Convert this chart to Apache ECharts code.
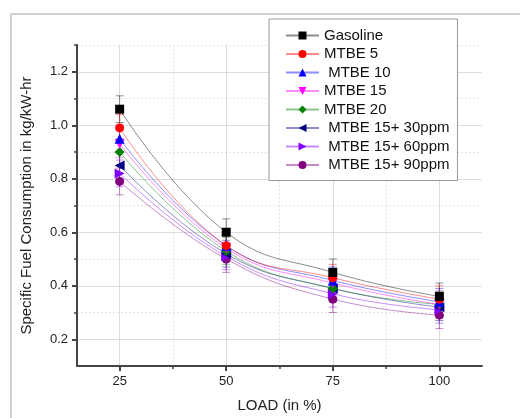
<!DOCTYPE html>
<html><head><meta charset="utf-8">
<script src="https://cdn.jsdelivr.net/npm/echarts@6/dist/echarts.min.js"></script>
<style>html,body{margin:0;padding:0;background:#fff}#c{width:520px;height:418px}</style>
</head><body><div id="c"></div>
<script>
const loads = [25, 50, 75, 100];
const seriesNames = ['Gasoline', 'MTBE 5', ' MTBE 10', 'MTBE 15', 'MTBE 20', ' MTBE 15+ 30ppm', ' MTBE 15+ 60ppm', ' MTBE 15+ 90ppm'];
const gasoline = [1.06, 0.60, 0.45, 0.36];
const mtbe5 = [0.99, 0.55, 0.43, 0.35];
const mtbe10 = [0.95, 0.55, 0.42, 0.34];
const mtbe15 = [0.93, 0.54, 0.41, 0.33];
const mtbe20 = [0.90, 0.53, 0.39, 0.33];
const mtbe15p30 = [0.85, 0.52, 0.39, 0.32];
const mtbe15p60 = [0.82, 0.51, 0.37, 0.31];
const mtbe15p90 = [0.79, 0.50, 0.35, 0.29];
const errorBar = 0.05;
const xTicks = [25, 50, 75, 100];
const xMinor = [37.5, 62.5, 87.5];
const yTicks = [0.2, 0.4, 0.6, 0.8, 1.0, 1.2];
const yMinor = [0.3, 0.5, 0.7, 0.9, 1.1, 1.3];

const values = [gasoline, mtbe5, mtbe10, mtbe15, mtbe20, mtbe15p30, mtbe15p60, mtbe15p90];
const colors = ['#000000', '#ff0000', '#0000ff', '#ff00ff', '#008000', '#000080', '#8000ff', '#800080'];
const symbols = ['rect', 'circle', 'triangle', 'path://M0,0 L10,0 L5,9 Z', 'diamond',
  'path://M0,5 L9,0 L9,10 Z', 'path://M0,0 L9,5 L0,10 Z', 'circle'];
const symbolSizes = [9, 9, 10, 10, 10, 10, 10, 9];
const FONT = 'Liberation Sans, Arial, sans-serif';
const axisColor = '#444';

const series = [];
values.forEach((vals, i) => {
  series.push({
    name: 'err' + i, type: 'custom', xAxisIndex: 0, yAxisIndex: 0, z: 1,
    silent: true,
    data: loads.map((x, k) => [x, vals[k], errorBar]),
    encode: { x: 0, y: 1 },
    renderItem: function (params, api) {
      const x = api.value(0), y = api.value(1), e = api.value(2);
      const p = api.coord([x, y + e]);
      const q = api.coord([x, y - e]);
      const hw = 4;
      const st = { stroke: colors[i], lineWidth: 1, opacity: 0.45 };
      return { type: 'group', children: [
        { type: 'line', shape: { x1: p[0], y1: p[1], x2: q[0], y2: q[1] }, style: st },
        { type: 'line', shape: { x1: p[0] - hw, y1: p[1], x2: p[0] + hw, y2: p[1] }, style: st },
        { type: 'line', shape: { x1: q[0] - hw, y1: q[1], x2: q[0] + hw, y2: q[1] }, style: st }
      ]};
    }
  });
});
values.forEach((vals, i) => {
  series.push({
    name: seriesNames[i], type: 'line', xAxisIndex: 0, yAxisIndex: 0, z: 3 + (values.length - i),
    data: loads.map((x, k) => [x, vals[k]]),
    smooth: 0.45,
    symbol: symbols[i], symbolSize: symbolSizes[i],
    itemStyle: { color: colors[i] },
    lineStyle: { color: colors[i], width: 1, opacity: 0.45 }
  });
});

const chart = echarts.init(document.getElementById('c'), null, { renderer: 'canvas' });
chart.setOption({
  animation: false,
  backgroundColor: '#fff',
  graphic: [{ type: 'rect', shape: { x: 11, y: 14, width: 600, height: 500 }, style: { fill: 'none', stroke: '#c4c4c4', lineWidth: 1.5 }, z: -10 }],
  grid: { left: 77, right: 38, top: 45, bottom: 45, containLabel: false },
  legend: {
    orient: 'vertical', left: 269, top: 19,
    padding: [9, 8, 8, 16], itemGap: 3.5, itemWidth: 33, itemHeight: 10,
    borderColor: '#999', borderWidth: 1, backgroundColor: '#fff',
    textStyle: { fontSize: 15, color: '#111', fontFamily: FONT },
    data: seriesNames
  },
  xAxis: [
    { type: 'value', min: 15, max: 110,
      name: 'LOAD (in %)', nameLocation: 'middle', nameGap: 32,
      nameTextStyle: { fontSize: 15, color: '#222', fontFamily: FONT },
      axisLine: { show: true, onZero: false, lineStyle: { color: axisColor, width: 2 } },
      axisTick: { show: true, customValues: xTicks, length: 5, lineStyle: { color: axisColor, width: 2 } },
      axisLabel: { customValues: xTicks, fontSize: 13, color: '#222', fontFamily: FONT, margin: 9 },
      splitLine: { show: true, lineStyle: { color: '#dcdcdc', width: 1 } } },
    { type: 'value', min: 15, max: 110, position: 'bottom',
      axisLine: { show: false },
      axisTick: { show: true, customValues: xMinor, length: 3, lineStyle: { color: axisColor, width: 1.5 } },
      axisLabel: { show: false, customValues: xMinor },
      splitLine: { show: true, lineStyle: { color: '#e4e4e4', width: 1, type: [2, 2] } } }
  ],
  yAxis: [
    { type: 'value', min: 0.1, max: 1.3,
      name: 'Specific Fuel Consumption in kg/kW-hr', nameLocation: 'middle', nameGap: 43,
      nameTextStyle: { fontSize: 15, color: '#222', fontFamily: FONT },
      axisLine: { show: true, onZero: false, lineStyle: { color: axisColor, width: 2 } },
      axisTick: { show: true, customValues: yTicks, length: 5, lineStyle: { color: axisColor, width: 2 } },
      axisLabel: { customValues: yTicks, fontSize: 13, color: '#222', fontFamily: FONT, margin: 9,
        formatter: v => v.toFixed(1) },
      splitLine: { show: true, lineStyle: { color: '#dcdcdc', width: 1 } } },
    { type: 'value', min: 0.1, max: 1.3, position: 'left',
      axisLine: { show: false },
      axisTick: { show: true, customValues: yMinor, length: 3, lineStyle: { color: axisColor, width: 1.5 } },
      axisLabel: { show: false, customValues: yMinor },
      splitLine: { show: true, lineStyle: { color: '#e4e4e4', width: 1, type: [2, 2] } } }
  ],
  series: series
});
</script></body></html>
